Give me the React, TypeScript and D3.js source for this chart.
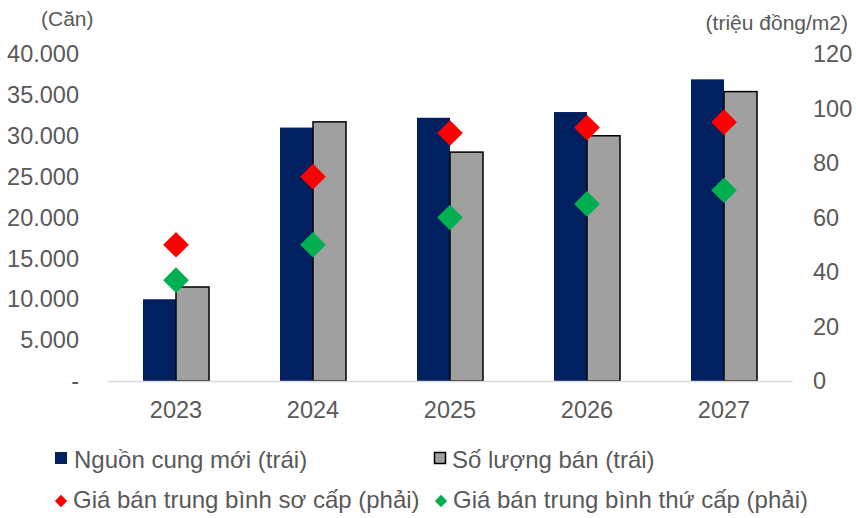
import React from "react";
import * as d3 from "d3";

const years = ["2023", "2024", "2025", "2026", "2027"];
const supply = [10000, 31000, 32200, 32900, 36900];
const sold = [11500, 31700, 28000, 30000, 35400];
const primaryPrice = [50, 75, 91, 93, 95];
const secondaryPrice = [37, 50, 60, 65, 70];
const leftTicks = [0, 5000, 10000, 15000, 20000, 25000, 30000, 35000, 40000];
const rightTicks = [0, 20, 40, 60, 80, 100, 120];

const W = 856;
const H = 518;
const FONT = "'Liberation Sans', Arial, sans-serif";
const TXT = "#595959";
const NAVY = "#002060";
const GRAY = "#A0A0A0";
const RED = "#FF0000";
const GREEN = "#00B050";

export default function App() {
  const x = d3.scaleBand<string>().domain(years).range([107.5, 792.5]).padding(0);
  const yL = d3.scaleLinear().domain([0, 40000]).range([381, 54]);
  const yR = d3.scaleLinear().domain([0, 120]).range([381, 54]);
  const loc = d3.formatLocale({ decimal: ",", thousands: ".", grouping: [3], currency: ["", ""] });
  const fmt = loc.format(",");
  const barW = 33;
  const diamond = d3.symbol().type(d3.symbolSquare).size(330)();
  const legDiamond = d3.symbol().type(d3.symbolSquare).size(76)();
  const cx = (d: string) => (x(d) as number) + x.bandwidth() / 2;

  return (
    <svg width={W} height={H} style={{ position: "absolute", left: 0, top: 0, background: "#fff" }} fontFamily={FONT}>
      {leftTicks.map((t) => (
        <text key={"l" + t} x={79} y={yL(t)} dy="0.35em" textAnchor="end" fontSize={23.5} fill={TXT}>
          {t === 0 ? "-" : fmt(t)}
        </text>
      ))}
      {rightTicks.map((t) => (
        <text key={"r" + t} x={813} y={yR(t)} dy="0.35em" textAnchor="start" fontSize={23.5} fill={TXT}>
          {t}
        </text>
      ))}
      <text x={41} y={26} fontSize={21} fill={TXT}>(Căn)</text>
      <text x={848} y={30} fontSize={21} fill={TXT} textAnchor="end">(triệu đồng/m2)</text>

      {years.map((yr, i) => (
        <g key={"b" + yr}>
          <rect x={cx(yr) - barW} y={yL(supply[i])} width={barW} height={yL(0) - yL(supply[i])} fill={NAVY} />
          <rect x={cx(yr)} y={yL(sold[i])} width={barW} height={yL(0) - yL(sold[i])} fill={GRAY} stroke="#000" strokeWidth={1.5} />
        </g>
      ))}
      <line x1={107.5} x2={792.5} y1={381.5} y2={381.5} stroke="#D9D9D9" strokeWidth={1.5} />

      {years.map((yr, i) => (
        <g key={"d" + yr}>
          <path d={diamond as string} transform={`translate(${cx(yr)},${yR(primaryPrice[i])}) rotate(45)`} fill={RED} />
          <path d={diamond as string} transform={`translate(${cx(yr)},${yR(secondaryPrice[i])}) rotate(45)`} fill={GREEN} />
        </g>
      ))}

      {years.map((yr) => (
        <text key={"x" + yr} x={cx(yr)} y={418} textAnchor="middle" fontSize={23.5} fill={TXT}>
          {yr}
        </text>
      ))}

      <rect x={55} y={452} width={12} height={12} fill={NAVY} />
      <text x={74} y={468} fontSize={24} fill={TXT}>Nguồn cung mới (trái)</text>
      <rect x={434.5} y={452.5} width={11} height={11} fill={GRAY} stroke="#000" strokeWidth={1.5} />
      <text x={452} y={468} fontSize={24} fill={TXT}>Số lượng bán (trái)</text>
      <path d={legDiamond as string} transform="translate(61,501) rotate(45)" fill={RED} />
      <text x={73} y={508} fontSize={24} fill={TXT}>Giá bán trung bình sơ cấp (phải)</text>
      <path d={legDiamond as string} transform="translate(441,501) rotate(45)" fill={GREEN} />
      <text x={453} y={508} fontSize={24} fill={TXT}>Giá bán trung bình thứ cấp (phải)</text>
    </svg>
  );
}
